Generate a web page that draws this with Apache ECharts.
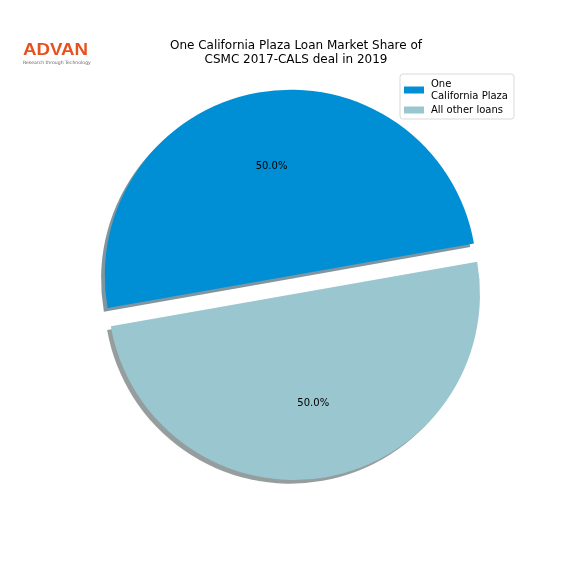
<!DOCTYPE html>
<html>
<head>
<meta charset="utf-8">
<script src="https://cdn.jsdelivr.net/npm/echarts@6/dist/echarts.min.js"></script>
<style>html,body{margin:0;padding:0;background:#fff}#chart{width:576px;height:576px}</style>
</head>
<body>
<div id="chart"></div>
<script>
const categories = ['One\nCalifornia Plaza', 'All other loans'];
const values = [50, 50];
const colors = ['#008fd5', '#99c6cf'];
const shadowColors = ['rgba(0,43,64,0.5)', 'rgba(46,59,62,0.5)'];
const exploded = [true, false];
const titleText = 'One California Plaza Loan Market Share of\nCSMC 2017-CALS deal in 2019';

const R = 186;
const center = [294, 294];
const font = 'DejaVu Sans';

const chart = echarts.init(document.getElementById('chart'), null, {renderer: 'canvas'});

const mainData = categories.map((c, i) => ({
  name: c, value: values[i], selected: exploded[i],
  itemStyle: {color: colors[i], shadowColor: shadowColors[i], shadowBlur: 0.5, shadowOffsetX: -3.7, shadowOffsetY: 3.7}
}));
const labelData = categories.map((c, i) => ({
  name: c, value: values[i], selected: exploded[i],
  itemStyle: {color: 'rgba(0,0,0,0)'}
}));

chart.setOption({
  animation: false,
  backgroundColor: '#fff',
  title: {
    text: titleText, left: 291, top: 34, textAlign: 'center',
    textStyle: {fontFamily: font, fontSize: 12, fontWeight: 'normal', color: '#000', lineHeight: 14}
  },
  legend: {
    orient: 'vertical', left: 400, top: 74,
    data: categories.map((c, i) => ({name: c, itemStyle: {color: colors[i]}})),
    icon: 'rect', itemWidth: 20, itemHeight: 7, itemGap: 2,
    padding: [4, 6, 3, 4],
    backgroundColor: '#fff', borderColor: '#d9d9d9', borderWidth: 1, borderRadius: 3,
    textStyle: {fontFamily: font, fontSize: 10, color: '#000', lineHeight: 12, padding: [0, 0, 0, 2]},
    selectedMode: false
  },
  graphic: [
    {type: 'text', left: 23, top: 42, scaleX: 1.1, style: {text: 'ADVAN', fontFamily: 'Liberation Sans', fontSize: 17, fontWeight: 'bold', fill: '#e8501e'}},
    {type: 'text', left: 23, top: 60, style: {text: 'Research through Technology', fontFamily: font, fontSize: 4.6, fill: '#666'}}
  ],
  series: [
    {
      type: 'pie', name: 'main', center: center, radius: [0, R],
      startAngle: 190, clockwise: true,
      selectedMode: 'single', selectedOffset: R * 0.1,
      label: {show: false}, labelLine: {show: false},
      emphasis: {disabled: true}, silent: true,
      itemStyle: {borderWidth: 0},
      data: mainData
    },
    {
      type: 'pie', name: 'labels', center: center, radius: [R * 0.16, R],
      startAngle: 190, clockwise: true,
      selectedMode: 'single', selectedOffset: R * 0.1,
      label: {
        show: true, position: 'inside', fontFamily: font, fontSize: 10, color: '#000',
        formatter: p => p.percent.toFixed(1) + '%'
      },
      labelLine: {show: false},
      emphasis: {disabled: true}, silent: true,
      itemStyle: {borderWidth: 0},
      data: labelData
    }
  ]
});
</script>
</body>
</html>
